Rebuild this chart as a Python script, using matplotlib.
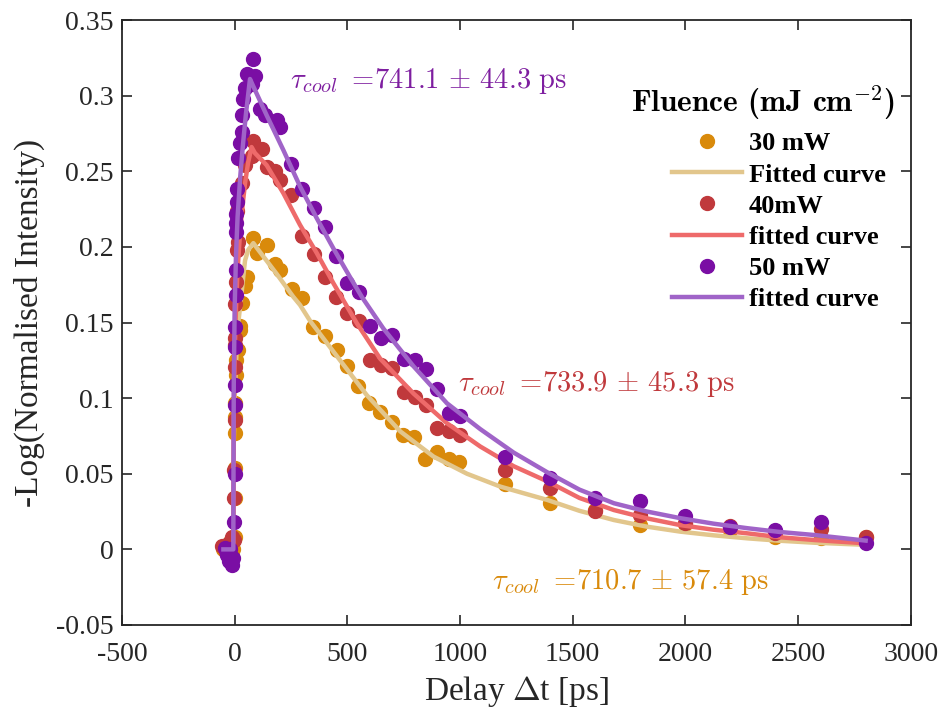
import numpy as np
import matplotlib
matplotlib.use('Agg')
import matplotlib.pyplot as plt

plt.rcParams['font.family'] = ['Liberation Serif', 'DejaVu Serif']
plt.rcParams['mathtext.fontset'] = 'cm'
plt.rcParams['axes.unicode_minus'] = False

# 30 mW data
t30 = [-50, -35, -20, -8, 0, 0, 0, 0, 2, 2, 8, 8, 16, 24, 24, 31, 38, 46, 53, 83,
       100, 142, 179, 201, 253, 298, 349, 401, 453, 498, 549, 594, 646, 697, 749, 794,
       846, 898, 949, 994, 1200, 1400, 1600, 1800, 2000, 2200, 2400, 2600, 2800]
v30 = [0.0, 0.003, 0.005, 0.0, 0.0084, 0.034, 0.0536, 0.0768, 0.0878, 0.0966, 0.115, 0.125,
       0.132, 0.145, 0.148, 0.163, 0.177, 0.174, 0.180, 0.206,
       0.196, 0.201, 0.189, 0.185, 0.172, 0.166, 0.147, 0.141, 0.132, 0.121, 0.108, 0.0966,
       0.091, 0.0845, 0.0757, 0.0745, 0.060, 0.0646, 0.060, 0.058,
       0.043, 0.0309, 0.026, 0.0161, 0.017, 0.0128, 0.008, 0.0073, 0.0084]

# 40 mW data
t40 = [-58, -40, -25, -10, -5, -3, -3, 0, 0, 0, 0, 0, 8, 10, 16, 9, 31, 46, 75, 83,
       120, 145, 179, 200, 250, 300, 350, 400, 450, 500, 550, 600, 650, 700, 750, 800,
       850, 900, 950, 1000, 1200, 1400, 1600, 1800, 2000, 2200, 2400, 2600, 2800]
v40 = [0.002, -0.002, 0.004, 0.008, 0.006, 0.0338, 0.0525, 0.0856, 0.1205, 0.135, 0.140, 0.162,
       0.177, 0.198, 0.203, 0.224, 0.242, 0.254, 0.260, 0.270,
       0.265, 0.253, 0.250, 0.244, 0.234, 0.207, 0.195, 0.180, 0.167, 0.156, 0.151, 0.125,
       0.122, 0.120, 0.104, 0.101, 0.0955, 0.080, 0.078, 0.0757,
       0.0525, 0.0404, 0.0254, 0.0228, 0.0172, 0.0155, 0.0106, 0.0133, 0.008]

# 50 mW data
t50 = [-45, -35, -25, -20, -12, -8, -3, 0, 0, 0, 2, 2, 5, 5, 7, 7, 8, 9, 9, 16, 24, 31, 31,
       38, 46, 53, 75, 83, 90,
       112, 135, 187, 201, 250, 300, 350, 400, 450, 500, 550, 600, 650, 700, 750, 800,
       850, 900, 950, 1000, 1200, 1400, 1600, 1800, 2000, 2200, 2400, 2600, 2800]
v50 = [0.001, -0.004, -0.008, 0.0, -0.010, -0.006, 0.018, 0.050, 0.0955, 0.109, 0.134, 0.147,
       0.168, 0.185, 0.210, 0.216, 0.222, 0.230, 0.238, 0.259, 0.269, 0.276, 0.287,
       0.298, 0.305, 0.314, 0.308, 0.324, 0.313,
       0.291, 0.287, 0.284, 0.279, 0.255, 0.238, 0.226, 0.213, 0.194, 0.176, 0.170, 0.148,
       0.140, 0.142, 0.126, 0.125, 0.119, 0.106, 0.090, 0.088,
       0.061, 0.047, 0.034, 0.032, 0.022, 0.015, 0.013, 0.018, 0.0044]

# fitted curves
ft30 = [-50, -6, -5, -4, 0, 8, 16, 24, 38, 46, 60, 83, 100, 187, 260, 290, 335, 438, 586,
        735, 883, 1031, 1179, 1387, 1530, 1683, 1830, 1979, 2125, 2275, 2420, 2572, 2800]
fv30 = [0, 0, 0.04, 0.07, 0.10, 0.13, 0.15, 0.16, 0.18, 0.191, 0.198, 0.2025, 0.199, 0.182,
        0.167, 0.1616, 0.151, 0.1308, 0.102, 0.078, 0.0613, 0.050, 0.0415, 0.0327, 0.0255,
        0.0194, 0.015, 0.0117, 0.0093, 0.0073, 0.0057, 0.0044, 0.003]
ft40 = [-50, -6, -5, -4, 0, 6, 13, 22, 31, 46, 60, 75, 90, 142, 216, 290, 364, 438, 542,
        646, 794, 942, 1090, 1238, 1387, 1530, 1683, 1830, 1979, 2125, 2275, 2420, 2572, 2800]
fv40 = [0, 0, 0.05, 0.09, 0.13, 0.16, 0.185, 0.205, 0.222, 0.242, 0.256, 0.266, 0.262,
        0.254, 0.2355, 0.2145, 0.196, 0.176, 0.1495, 0.126, 0.103, 0.0834, 0.068, 0.055,
        0.045, 0.034, 0.026, 0.0205, 0.016, 0.013, 0.0106, 0.008, 0.0062, 0.004]
ft50 = [-50, -6, -5, -4, 0, 6, 13, 25, 37, 50, 68, 80, 142, 216, 290, 364, 438, 512, 564,
        660, 794, 942, 1090, 1238, 1387, 1530, 1683, 1830, 1979, 2125, 2275, 2420, 2572, 2800]
fv50 = [0, 0, 0.06, 0.11, 0.16, 0.195, 0.22, 0.247, 0.268, 0.288, 0.311, 0.307, 0.287,
        0.264, 0.240, 0.219, 0.199, 0.180, 0.167, 0.146, 0.121, 0.0966, 0.0795, 0.064,
        0.051, 0.0395, 0.0305, 0.025, 0.0206, 0.017, 0.014, 0.0115, 0.0095, 0.0058]

c_or, c_red, c_pur = '#D98A0B', '#C0393C', '#7A0EA4'
l_or, l_red, l_pur = '#E2C68C', '#EE6A6A', '#A064C8'

fig = plt.figure(figsize=(9.43, 7.09), dpi=100)
ax = fig.add_axes([122/943, 84/709, 788.7/943, 605/709])

ax.plot(t30, v30, 'o', color=c_or, markersize=10, label='30 mW')
ax.plot(ft30, fv30, '-', color=l_or, lw=3.2, label='Fitted curve')
ax.plot(t40, v40, 'o', color=c_red, markersize=10, label='40mW')
ax.plot(ft40, fv40, '-', color=l_red, lw=3.2, label='fitted curve')
ax.plot(t50, v50, 'o', color=c_pur, markersize=10, label='50 mW')
ax.plot(ft50, fv50, '-', color=l_pur, lw=3.2, label='fitted curve')

ax.text(246, 0.3094, r'$\tau_{cool}\ =\!741.1 \,\pm\, 44.3\ \mathrm{ps}$', color='#7E1EA0',
        fontsize=20.5, ha='left', va='center')
ax.text(993, 0.1094, r'$\tau_{cool}\ =\!733.9 \,\pm\, 45.3\ \mathrm{ps}$', color=c_red,
        fontsize=20.5, ha='left', va='center')
ax.text(1144, -0.0215, r'$\tau_{cool}\ =\!710.7 \,\pm\, 57.4\ \mathrm{ps}$', color=c_or,
        fontsize=20.5, ha='left', va='center')

ax.set_xlim(-500, 3000)
ax.set_ylim(-0.05, 0.35)
ax.set_xticks(np.arange(-500, 3001, 500))
ax.set_yticks(np.arange(-0.05, 0.351, 0.05))
ax.set_yticklabels(['-0.05', '0', '0.05', '0.1', '0.15', '0.2', '0.25', '0.3', '0.35'])
ax.tick_params(direction='in', top=True, right=True, length=7, width=1.2,
               labelsize=20, colors='#262626', labelcolor='#262626')
ax.tick_params(axis='x', pad=12)
ax.tick_params(axis='y', pad=6)
for s in ax.spines.values():
    s.set_linewidth(1.3)
    s.set_color('#262626')

ax.set_xlabel(r'Delay $\Delta$t [ps]', fontsize=24, color='#262626', labelpad=5)
ax.set_ylabel('-Log(Normalised Intensity)', fontsize=24, color='#262626', labelpad=8)

# legend title drawn as its own text so the entries sit like the original
fig.text(763/943, 1 - 103/709, r'Fluence (mJ cm$^{-2}$)', family='cmb10', fontsize=22.5,
         ha='center', va='center')
leg = ax.legend(loc='upper left', bbox_to_anchor=((672 - 122) / 788.7, (625 - 132) / 605),
                frameon=False, prop={'weight': 'bold', 'size': 19},
                handlelength=2.65, handletextpad=0.25, labelspacing=0.29,
                borderpad=0, borderaxespad=0)

fig.savefig('out.png', dpi=100)
